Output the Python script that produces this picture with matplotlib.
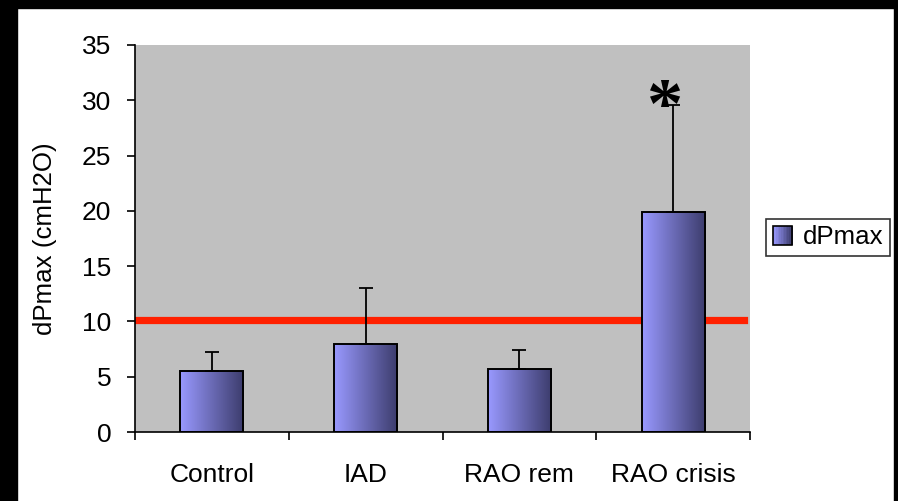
import numpy as np
import matplotlib
matplotlib.use('Agg')
import matplotlib.pyplot as plt
from matplotlib.patches import Rectangle
from matplotlib.legend_handler import HandlerBase
from matplotlib.colors import LinearSegmentedColormap

categories = ['Control', 'IAD', 'RAO rem', 'RAO crisis']
dpmax_mean = [5.5, 8.0, 5.7, 19.9]
dpmax_sd = [1.7, 5.0, 1.7, 9.7]
threshold = 10.1
yticks = [0, 5, 10, 15, 20, 25, 30, 35]
signif_label = '*'

plt.rcParams['font.family'] = ['Liberation Sans', 'DejaVu Sans']

grad = LinearSegmentedColormap.from_list('bar', ['#9999FF', '#3C3C6C'])


class GradientHandler(HandlerBase):
    # legend key drawn as thin vertical strips to fake the gradient
    def create_artists(self, legend, orig, xd, yd, w, h, fs, trans):
        side = min(w, h) * 1.1
        x0 = xd + (w - side) / 2 - xd * 2
        y0 = -yd + (h - side) / 2
        n = 12
        arts = []
        for i in range(n):
            r = Rectangle((x0 + side * i / n, y0), side / n + 0.2, side,
                          facecolor=grad(i / (n - 1)), edgecolor='none',
                          transform=trans)
            arts.append(r)
        arts.append(Rectangle((x0, y0), side, side, facecolor='none',
                              edgecolor='black', lw=1.2, transform=trans))
        return arts


fig = plt.figure(figsize=(8.98, 5.01), dpi=100)
fig.patch.set_facecolor('white')
ax = fig.add_axes([135 / 898, 1 - 432 / 501, 615 / 898, 387 / 501])
ax.set_facecolor('#C0C0C0')

x = np.arange(len(categories))
width = 0.41

ax.axhline(threshold, xmin=0, xmax=(744 - 135) / 615, color='#FF2000', lw=5.2,
           zorder=1.5)

bars = ax.bar(x, dpmax_mean, width=width, facecolor='none', edgecolor='black',
              lw=1.4, zorder=3, label='dPmax')
g = np.linspace(0, 1, 256).reshape(1, -1)
for b in bars:
    bx, by = b.get_x(), b.get_y()
    im = ax.imshow(g, cmap=grad, aspect='auto', zorder=2.5,
                   extent=[bx, bx + b.get_width(), by, by + b.get_height()])
    im.set_clip_path(b)

ax.errorbar(x, dpmax_mean, yerr=[np.zeros(len(x)), dpmax_sd], fmt='none',
            ecolor='black', elinewidth=1.3, capsize=5, capthick=1.3, zorder=2.8)

ax.text(2.945, 27.6, signif_label, family='Liberation Serif', fontweight='bold',
        fontsize=52, ha='center', va='baseline', zorder=4)

ax.set_xlim(-0.5, 3.5)
ax.set_ylim(0, 35)
ax.set_yticks(yticks)
ax.set_xticks(np.arange(-0.5, 4, 1.0))
ax.set_xticklabels([])
ax.set_xticks(x, minor=True)
ax.set_xticklabels(categories, minor=True)
ax.tick_params(axis='x', which='minor', length=0, pad=22.5, labelsize=19)
ax.tick_params(axis='x', which='major', length=6, width=1.2, direction='out')
ax.tick_params(axis='y', length=6, width=1.2, pad=11, labelsize=19)
for s in ['top', 'right']:
    ax.spines[s].set_visible(False)
for s in ['left', 'bottom']:
    ax.spines[s].set_linewidth(1.2)
ax.set_ylabel('dPmax (cmH2O)', fontsize=18.6)
ax.yaxis.set_label_coords(-0.127, 0.5)

leg = fig.legend(handles=[bars], labels=['dPmax'], loc='center',
                 bbox_to_anchor=(828 / 898, 1 - 237.5 / 501),
                 handler_map={type(bars): GradientHandler()},
                 fontsize=18.6, frameon=True, fancybox=False, edgecolor='black',
                 handlelength=0.8, handletextpad=0.4, borderpad=0.25,
                 borderaxespad=0)
leg.get_frame().set_linewidth(1.2)

# black frame around the slide area
fig.patches.append(Rectangle((0, 0), 17 / 898, 1, transform=fig.transFigure,
                             color='black', zorder=10))
fig.patches.append(Rectangle((0, 1 - 8 / 501), 1, 8 / 501,
                             transform=fig.transFigure, color='black', zorder=10))
fig.patches.append(Rectangle((894 / 898, 0), 4 / 898, 1,
                             transform=fig.transFigure, color='black', zorder=10))

fig.savefig('out.png', dpi=100, facecolor='white')
